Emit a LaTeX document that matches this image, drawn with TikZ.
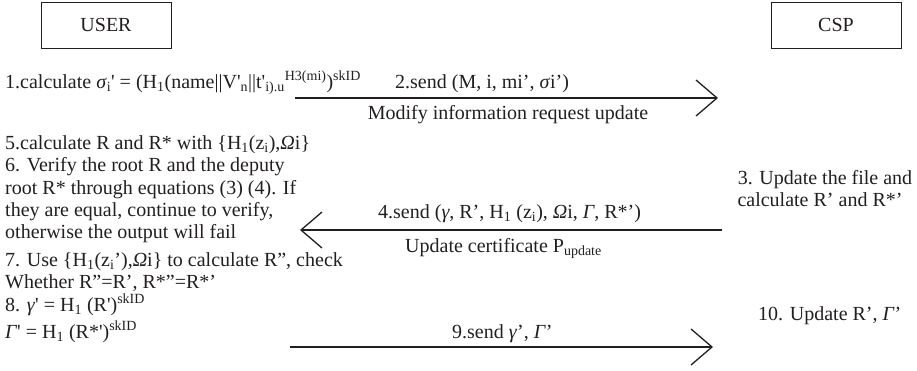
\documentclass[tikz,border=0pt]{standalone}
\usepackage{fontspec}
\setmainfont{Liberation Serif}
\usetikzlibrary{arrows.meta}
\definecolor{ink}{HTML}{231F20}
\tikzset{
  txt/.style={anchor=base west, inner sep=0pt, text=ink, font=\fontsize{20}{24}\selectfont},
  ctxt/.style={txt, anchor=base},
  actor/.style={draw=ink, line width=1pt, minimum width=130pt, minimum height=46pt, inner sep=0pt, text=ink, font=\fontsize{20}{24}\selectfont},
  msg/.style={draw=ink, line width=1.3pt, -{Straight Barb[length=21pt,width=36pt,line width=1.3pt]}}
}
\newcommand{\qs}{\textquotesingle}
\begin{document}
\begin{tikzpicture}[x=1pt,y=-1pt]
\useasboundingbox (0,0) rectangle (917,370);
\node[actor] (user) at (106,25) {USER};
\node[actor] (csp) at (836,25) {CSP};

\node[txt] (s1) at (5,88) {1.calculate \textit{σ}\textsubscript{i}\qs{} = (H\textsubscript{1}(name||V\qs\textsubscript{n}||t\qs\textsubscript{i).u}\textsuperscript{H3(mi)})\textsuperscript{skID}};
\node[txt] (s2) at (395,88) {2.send (M, i, mi’, \textit{σ}i’)};
\node[ctxt] (l1) at (508,119) {Modify information request update};
\coordinate (a1s) at (295,98);
\coordinate (a1e) at (718,98);
\draw[msg] (a1s) -- (a1e);

\node[txt] (s5) at (5,149) {5.calculate R and R* with \{H\textsubscript{1}(z\textsubscript{i}),\textit{Ω}i\}};
\node[txt] (s6a) at (5,171) {6. Verify the root R and the deputy};
\node[txt] (s6b) at (5,194) {root R* through equations (3) (4). If};
\node[txt] (s6c) at (5,216) {they are equal, continue to verify,};
\node[txt] (s6d) at (5,238) {otherwise the output will fail};
\node[txt] (s7a) at (5,266) {7. Use \{H\textsubscript{1}(z\textsubscript{i}’),\textit{Ω}i\} to calculate R”, check};
\node[txt] (s7b) at (5,288) {Whether R”=R’, R*”=R*’};
\node[txt] (s8a) at (5,311) {8. \textit{γ}\qs{} = H\textsubscript{1} (R\qs)\textsuperscript{skID}};
\node[txt] (s8b) at (5,338) {\textit{Γ}\qs{} = H\textsubscript{1} (R*\qs)\textsuperscript{skID}};

\node[ctxt] (s3a) at (825,184) {3. Update the file and};
\node[ctxt] (s3b) at (820,206) {calculate R’ and R*’};
\node[txt] (s4) at (378,218) {4.send (\textit{γ}, R’, H\textsubscript{1} (z\textsubscript{i}), \textit{Ω}i, \textit{Γ}, R*’)};
\node[txt] (l2) at (405,252) {Update certificate P\textsubscript{update}};
\coordinate (a2s) at (722,230);
\coordinate (a2e) at (300,230);
\draw[msg] (a2s) -- (a2e);

\node[txt] (s9) at (452,338) {9.send \textit{γ}’, \textit{Γ}’};
\node[txt] (s10) at (758,320) {10. Update R’, \textit{Γ}’};
\coordinate (a3s) at (290,347);
\coordinate (a3e) at (713,347);
\draw[msg] (a3s) -- (a3e);
\end{tikzpicture}
\end{document}
